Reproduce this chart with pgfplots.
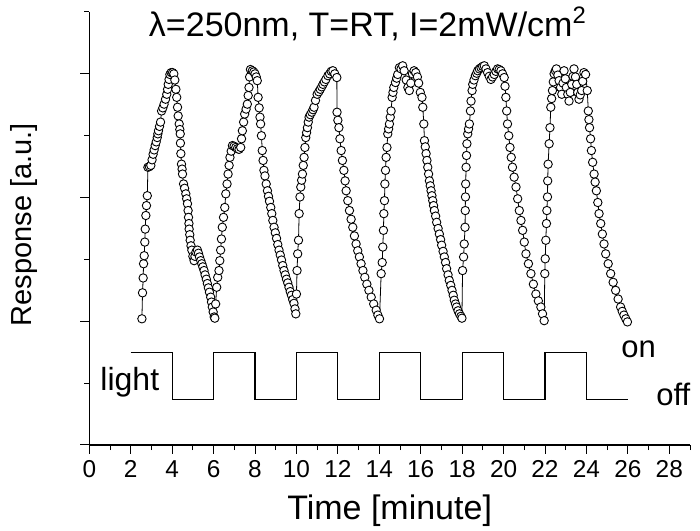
\documentclass[border=0pt]{standalone}
\usepackage{fontspec}
\setmainfont{Liberation Sans}
\usepackage{pgfplots}
\pgfplotsset{compat=1.18}
\begin{document}
\begin{tikzpicture}
\begin{axis}[
  name=ax,
  scale only axis,
  width=300.35pt, height=216.5pt,
  xmin=0, xmax=29, ymin=0, ymax=7,
  clip=false,
  axis lines*=left,
  axis line style={line width=0.65pt},
  tick style={line width=0.5pt, black},
  tick align=outside,
  xtick={0,2,...,28},
  minor xtick={1,3,...,29},
  ytick={0,2,4,6},
  minor ytick={1,3,5,7},
  yticklabels={},
  major tick length=4.4pt,
  minor tick length=2.6pt,
  /pgf/number format/assume math mode=true,
  tick label style={font=\fontsize{12.2}{13}\selectfont},
  xlabel={Time [minute]},
  xlabel style={font=\fontsize{17}{20}\selectfont, at={(axis description cs:0.5,-0.1732)}, anchor=base},
  ylabel={Response [a.u.]},
  ylabel style={font=\fontsize{14.5}{17}\selectfont, at={(axis description cs:-0.0959,0.509)}, anchor=base},
]
\addplot[black, line width=0.4pt, mark=*, mark size=2.1pt, mark options={fill=white, draw=black, line width=0.45pt}] coordinates {
(2.54,2.04)(2.57,2.46)(2.60,2.70)(2.62,2.93)(2.65,3.06)(2.68,3.28)(2.70,3.49)(2.73,3.71)(2.76,3.87)(2.80,4.03)
(2.83,4.49)(2.90,4.50)(2.97,4.52)(3.03,4.61)(3.08,4.70)(3.13,4.77)(3.18,4.84)(3.23,4.90)(3.28,4.97)(3.31,5.03)
(3.34,5.08)(3.39,5.15)(3.44,5.22)(3.49,5.40)(3.55,5.45)(3.61,5.51)(3.68,5.59)(3.74,5.67)(3.78,5.75)(3.81,5.83)
(3.85,5.91)(3.89,5.99)(3.95,6.02)(4.02,6.02)(4.08,6.00)
(4.13,5.90)(4.18,5.75)(4.22,5.62)(4.26,5.46)(4.29,5.32)(4.34,5.19)(4.37,5.10)(4.39,5.03)(4.40,4.88)(4.42,4.71)
(4.45,4.54)(4.48,4.46)(4.50,4.38)(4.55,4.22)(4.60,4.15)(4.66,4.06)(4.70,3.98)(4.74,3.90)(4.77,3.79)(4.79,3.68)
(4.81,3.58)(4.82,3.49)(4.85,3.40)(4.87,3.31)(4.91,3.22)(4.95,3.15)(5.00,3.05)(5.06,2.98)(5.10,3.05)(5.15,3.12)
(5.22,3.15)(5.27,3.10)(5.32,3.04)(5.38,2.98)(5.43,2.93)(5.48,2.88)(5.54,2.82)(5.59,2.75)(5.65,2.68)(5.70,2.61)
(5.75,2.54)(5.80,2.47)(5.86,2.39)(5.90,2.31)(5.94,2.23)(5.98,2.15)(6.03,2.07)
(6.06,2.05)(6.10,2.28)(6.15,2.55)(6.20,2.71)(6.26,2.82)(6.30,2.98)(6.34,3.15)(6.38,3.33)(6.42,3.52)(6.48,3.68)
(6.54,3.84)(6.59,4.06)(6.65,4.22)(6.70,4.38)(6.75,4.52)(6.79,4.65)(6.85,4.75)(6.91,4.84)(6.99,4.83)(7.07,4.81)
(7.15,4.79)(7.23,4.78)(7.31,4.81)(7.35,4.95)(7.39,5.08)(7.45,5.22)(7.50,5.35)(7.57,5.43)(7.63,5.51)(7.67,5.65)
(7.71,5.78)(7.74,5.95)(7.78,6.07)(7.87,6.05)(7.94,6.03)(8.00,6.00)(8.06,5.95)(8.11,5.89)(8.15,5.62)(8.20,5.45)
(8.24,5.30)(8.27,5.19)(8.31,5.00)(8.35,4.76)(8.39,4.60)(8.43,4.44)(8.48,4.35)(8.54,4.22)(8.60,4.11)(8.65,4.02)
(8.70,3.94)(8.76,3.84)(8.81,3.74)(8.86,3.63)(8.92,3.52)(8.98,3.43)(9.04,3.34)(9.10,3.24)(9.16,3.15)(9.22,3.07)
(9.28,2.99)(9.34,2.90)(9.40,2.82)(9.46,2.75)(9.52,2.68)(9.58,2.62)(9.64,2.55)(9.70,2.48)(9.76,2.42)(9.82,2.35)
(9.88,2.29)(9.93,2.20)(9.97,2.12)
(10.00,2.44)(10.03,2.82)(10.06,3.09)(10.10,3.31)(10.13,3.74)(10.17,4.01)(10.21,4.17)(10.25,4.28)(10.29,4.38)(10.33,4.52)
(10.37,4.65)(10.41,4.81)(10.45,4.97)(10.49,5.05)(10.53,5.13)(10.57,5.22)(10.61,5.30)(10.67,5.34)(10.74,5.38)(10.80,5.42)
(10.85,5.46)(10.92,5.57)(11.00,5.67)(11.08,5.71)(11.15,5.75)(11.22,5.79)(11.28,5.83)(11.35,5.87)(11.42,5.91)(11.52,5.97)
(11.60,6.00)(11.68,6.04)(11.76,6.05)(11.85,6.00)(11.95,5.94)(11.96,5.38)(12.00,5.25)(12.05,5.13)(12.10,4.95)(12.16,4.76)
(12.22,4.60)(12.29,4.44)(12.35,4.27)(12.40,4.11)(12.48,3.95)(12.56,3.79)(12.64,3.65)(12.72,3.52)(12.80,3.38)(12.88,3.25)
(12.96,3.14)(13.04,3.04)(13.12,2.93)(13.21,2.82)(13.30,2.71)(13.40,2.60)(13.50,2.50)(13.61,2.39)(13.73,2.28)(13.85,2.18)
(13.93,2.10)(14.01,2.04)
(14.09,2.77)(14.14,2.95)(14.17,3.20)(14.20,3.47)(14.22,3.74)(14.25,3.95)(14.27,4.22)(14.30,4.44)(14.33,4.65)(14.37,4.81)
(14.41,5.03)(14.45,5.11)(14.49,5.19)(14.53,5.30)(14.57,5.40)(14.62,5.62)(14.66,5.70)(14.70,5.78)(14.78,5.86)(14.84,5.93)
(14.89,5.99)(14.97,6.10)(15.05,6.08)(15.13,6.13)(15.20,6.05)(15.30,5.90)(15.38,5.78)(15.45,5.73)(15.52,5.85)(15.60,6.00)
(15.68,6.05)(15.76,6.02)(15.84,5.95)(15.90,5.85)(15.98,5.70)(16.06,5.62)(16.10,5.46)(16.15,5.19)(16.18,4.92)(16.22,4.82)
(16.26,4.71)(16.30,4.60)(16.34,4.49)(16.38,4.38)(16.42,4.27)(16.46,4.19)(16.50,4.11)(16.54,4.03)(16.58,3.95)(16.62,3.87)
(16.66,3.79)(16.72,3.70)(16.77,3.60)(16.84,3.50)(16.90,3.41)(16.96,3.32)(17.01,3.23)(17.08,3.13)(17.14,3.04)(17.20,2.95)
(17.25,2.85)(17.32,2.75)(17.38,2.66)(17.45,2.58)(17.51,2.50)(17.57,2.42)(17.62,2.34)(17.68,2.28)(17.73,2.23)(17.80,2.17)
(17.87,2.12)(17.94,2.08)(17.99,2.05)
(18.02,2.82)(18.07,3.04)(18.10,3.25)(18.14,3.52)(18.15,3.79)(18.16,4.01)(18.17,4.22)(18.19,4.49)(18.21,4.68)(18.23,4.87)
(18.27,5.03)(18.31,5.11)(18.35,5.19)(18.40,5.40)(18.43,5.56)(18.48,5.73)(18.51,5.83)(18.57,5.90)(18.64,5.97)(18.70,6.01)
(18.75,6.05)(18.83,6.08)(18.91,6.10)(18.99,6.12)(19.07,6.13)(19.15,6.08)(19.23,6.02)(19.31,5.96)(19.39,5.91)(19.47,5.95)
(19.55,5.99)(19.63,6.04)(19.71,6.08)(19.79,6.07)(19.87,6.05)(19.95,6.00)(20.03,5.94)(20.07,5.80)(20.11,5.62)(20.15,5.40)
(20.19,5.19)(20.25,5.00)(20.31,4.81)(20.37,4.65)(20.43,4.49)(20.51,4.33)(20.60,4.17)(20.68,3.98)(20.76,3.79)(20.84,3.63)
(20.92,3.47)(21.00,3.28)(21.08,3.09)(21.20,2.93)(21.32,2.77)(21.44,2.60)(21.56,2.44)(21.68,2.33)(21.80,2.23)(21.88,2.12)
(21.96,2.01)
(21.99,2.77)(22.01,3.01)(22.04,3.31)(22.07,3.58)(22.09,3.79)(22.12,4.01)(22.13,4.27)(22.15,4.54)(22.20,4.87)(22.24,5.13)
(22.28,5.46)(22.32,5.60)(22.36,5.73)(22.40,5.87)(22.44,6.00)(22.50,6.05)(22.55,6.08)(22.62,5.98)(22.68,5.89)(22.75,5.78)
(22.81,5.67)(22.87,5.85)(22.92,6.05)(22.98,5.92)(23.03,5.78)(23.10,5.67)(23.16,5.56)(23.22,5.70)(23.29,5.83)(23.35,5.96)
(23.40,6.08)(23.47,5.95)(23.53,5.83)(23.58,5.70)(23.64,5.59)(23.70,5.66)(23.77,5.73)(23.82,5.88)(23.88,6.02)(23.96,5.99)
(24.04,5.73)(24.09,5.40)(24.12,5.26)(24.15,5.13)(24.20,4.95)(24.24,4.76)(24.30,4.57)(24.37,4.38)(24.42,4.25)(24.48,4.11)
(24.55,3.92)(24.61,3.74)(24.69,3.58)(24.77,3.41)(24.85,3.25)(24.93,3.09)(25.05,2.93)(25.17,2.77)(25.29,2.63)(25.41,2.50)
(25.53,2.36)(25.65,2.23)(25.73,2.16)(25.81,2.10)(25.90,2.04)(25.98,1.99)
};
\addplot[black, line width=0.6pt] coordinates {
(2,1.5)(4,1.5)(4,0.74)(6,0.74)(6,1.5)(8,1.5)(8,0.74)(10,0.74)(10,1.5)(12,1.5)(12,0.74)(14,0.74)(14,1.5)(16,1.5)(16,0.74)
(18,0.74)(18,1.5)(20,1.5)(20,0.74)(22,0.74)(22,1.5)(24,1.5)(24,0.74)(26,0.74)
};
\node[anchor=base, inner sep=0pt, font=\fontsize{17}{19}\selectfont] at (axis cs:13.45,6.61) {λ=250nm, T=RT, I=2mW/cm\textsuperscript{2}};
\node[anchor=base west, inner sep=0pt, font=\fontsize{16}{19}\selectfont] at (axis cs:0.52,0.887) {light};
\node[anchor=base west, inner sep=0pt, font=\fontsize{15.5}{19}\selectfont] at (axis cs:25.67,1.41) {on};
\node[anchor=base west, inner sep=0pt, font=\fontsize{15.5}{19}\selectfont] at (axis cs:27.36,0.645) {off};
\end{axis}
\pgfresetboundingbox
\path[use as bounding box] ([xshift=-44.65pt,yshift=-43pt]ax.south west) rectangle ([xshift=5pt,yshift=6pt]ax.north east);
\end{tikzpicture}
\end{document}
